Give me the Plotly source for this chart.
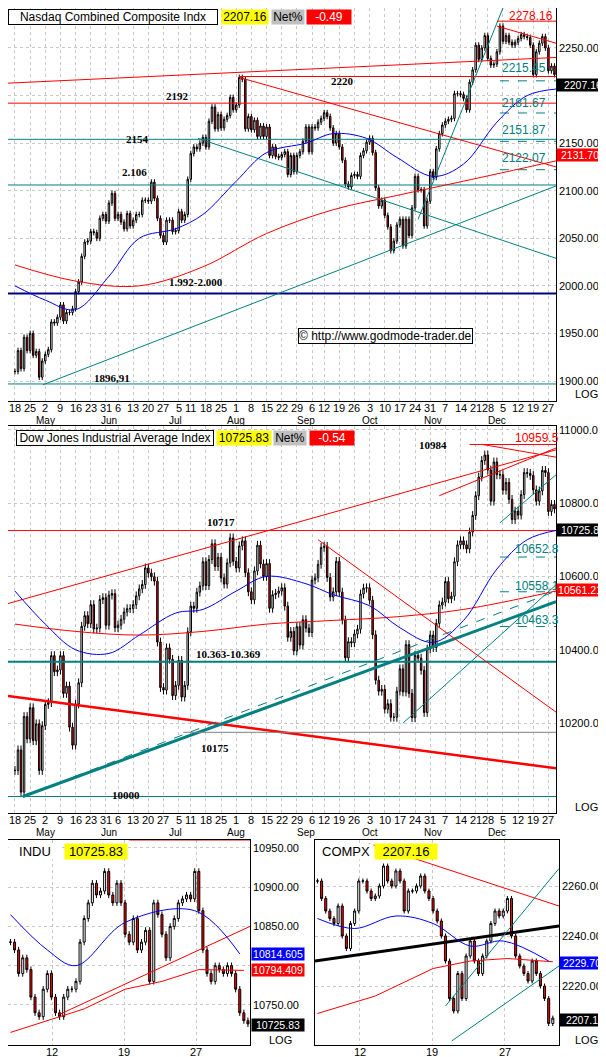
import pandas as pd
import plotly.graph_objects as go

W, H = 606, 1057
# ---------------- data ----------------
NASDAQ_CLOSE = [
 1910,1932,1913,1946,1932, 1950,1927,1931,1904,1921,
 1928,1933,1962,1961,1967, 1980,1963,1972,1972,1976,
 1994,2004,2031,2046,2047, 2057,2056,2050,2071,2075,
 2068,2087,2097,2071, 2075,2067,2060,2076,2063,
 2069,2075,2075,2090,2090, 2089,2109,2092,2071,2053,
 2046,2069,2069,2057,2058, 2078,2069,2075,2112,
 2139,2146,2144,2150,2156, 2146,2173,2188,2165,2180,
 2166,2175,2179,2198,2185, 2190,2219,2217,2165,2178,
 2164,2174,2157,2168,2157, 2167,2137,2146,2136,2135,
 2138,2141,2117,2137,2120, 2137,2141,2152,2167,2141,
 2167,2166,2172,2176, 2182,2178,2166,2150,2160,
 2146,2132,2107,2104,2116, 2117,2115,2137,2142,2151,
 2155,2140,2103,2084,2090, 2074,2062,2037,2047,2064,
 2070,2042,2070,2053,2082, 2115,2101,2101,2063,2089,
 2120,2114,2144,2160,2169, 2173,2175,2176,2202,2202,
 2201,2197,2185,2214,2227, 2253,2238,2250,2263,
 2239,2232,2233,2246,2273, 2257,2263,2256,2253,2256,
 2260,2264,2262,2261,2253, 2222,2246,2255,2262,2250,
 2226,2231,2222,2207.16]
DOW_CLOSE = [
 10071,10127,10012,10218,10157, 10242,10152,10198,10071,10193,
 10251,10256,10384,10340,10345, 10384,10281,10301,10189,10140,
 10252,10310,10464,10493,10471, 10523,10457,10459,10537,10542,
 10467,10549,10553,10460, 10467,10483,10503,10512,10512,
 10523,10547,10566,10578,10623, 10609,10599,10587,10421,10297,
 10290,10405,10374,10275,10303, 10371,10271,10303,10449,
 10519,10513,10557,10574,10640, 10575,10646,10689,10627,10652,
 10596,10579,10637,10705,10641, 10623,10683,10697,10610,10558,
 10536,10615,10685,10634,10600, 10635,10513,10550,10554,10560,
 10569,10519,10434,10450,10397, 10463,10413,10482,10459,10447,
 10590,10596,10633,10679, 10682,10597,10544,10558,10641,
 10557,10481,10378,10422,10419, 10443,10456,10552,10568,10569,
 10535,10441,10317,10287,10292, 10238,10253,10216,10216,10287,
 10348,10285,10414,10281,10215, 10385,10377,10344,10229,10402,
 10440,10406,10472,10522,10530, 10586,10539,10546,10640,10686,
 10697,10686,10675,10721,10766, 10820,10871,10916,10931,
 10890,10805,10912,10877,10877, 10835,10856,10810,10755,10778,
 10767,10823,10883,10881,10875, 10836,10805,10833,10889,10883,
 10777,10796,10784,10725.83]
NQ_MA50 = {"2005-04-18":2000,"2005-05-02":1985,"2005-05-16":1975,"2005-06-01":2010,"2005-06-15":2050,
 "2005-07-01":2060,"2005-07-15":2075,"2005-08-01":2110,"2005-08-15":2140,"2005-09-01":2150,
 "2005-09-15":2160,"2005-09-30":2155,"2005-10-14":2135,"2005-11-01":2115,"2005-11-15":2128,
 "2005-12-01":2172,"2005-12-15":2200,"2005-12-30":2207}
NQ_MA200 = {"2005-04-18":2022,"2005-05-16":2005,"2005-06-15":2000,"2005-07-15":2020,"2005-08-15":2055,
 "2005-09-15":2080,"2005-10-14":2095,"2005-11-15":2110,"2005-12-30":2131.7}
DJ_MA50 = {"2005-04-18":10560,"2005-05-02":10470,"2005-05-16":10400,"2005-06-01":10390,"2005-06-15":10440,
 "2005-07-01":10500,"2005-07-15":10510,"2005-08-01":10560,"2005-08-15":10600,"2005-09-01":10580,
 "2005-09-15":10550,"2005-10-03":10520,"2005-10-17":10460,"2005-11-01":10420,"2005-11-15":10480,
 "2005-12-01":10620,"2005-12-15":10700,"2005-12-30":10726}
DJ_MA200 = {"2005-04-18":10470,"2005-05-16":10450,"2005-06-15":10440,"2005-07-15":10450,"2005-08-15":10470,
 "2005-09-15":10480,"2005-10-14":10490,"2005-11-15":10510,"2005-12-30":10561.2}
INDU_CLOSE = [10830,10820,10790,10810,10795,10760,10740,10735,10770,10790,10760,
 10740,10735,10760,10770,10770,10780,10830,10860,10880,10905,10890,10895,10920,
 10890,10880,10905,10880,10840,10830,10860,10820,10830,10845,10780,
 10880,10865,10840,10810,10850,10860,10880,10885,10890,10885,10920,10870,
 10820,10790,10780,10800,10795,10790,10800,10790,10770,10740,10730,10725.83]
COMPX_CLOSE = [2262,2255,2250,2247,2245,2252,2240,2235,2245,2250,2262,2262,2258,2255,2256,
 2260,2268,2262,2260,2266,2262,2250,2258,2258,2260,2264,2258,2255,2250,
 2246,2240,2230,2215,2210,2225,2215,2232,2238,2230,2225,2232,2238,2245,2250,2248,
 2250,2255,2240,2232,2228,2225,2222,2230,2225,2220,2215,2205,2207.16]
INDU_MA_BLUE = [(0,10865),(9,10820),(16,10800),(28,10855),(45,10870),(56,10815)]
INDU_MA_RED = [(0,10715),(9,10730),(18,10745),(28,10770),(37,10780),(46,10795),(57,10794)]
COMPX_MA_BLUE = [(0,2247),(9,2243),(19,2248),(28,2245),(37,2236),(45,2238),(56,2230)]
COMPX_MA_RED = [(0,2209),(14,2216),(28,2227),(37,2230),(46,2231),(57,2229.7)]
INTRA_TICKS = [(10.2,"12"),(27.8,"19"),(45.4,"27")]

hol = pd.to_datetime(["2005-05-30","2005-07-04","2005-09-05","2005-11-24","2005-12-26"])
dates = [d for d in pd.bdate_range("2005-04-18","2005-12-30") if d not in hol]
n = min(len(dates), len(NASDAQ_CLOSE), len(DOW_CLOSE))
dates = dates[:n]
def di(s):
    t = pd.Timestamp(s)
    for i, d in enumerate(dates):
        if d >= t: return i
    return len(dates)-1

def ohlc(cl, wick):
    o, h, l = [], [], []
    for i, c in enumerate(cl):
        op = cl[i-1] if i else c
        o.append(op); h.append(max(op, c)+wick); l.append(min(op, c)-wick)
    return o, h, l

fig = go.Figure()
def P(x, y): return x/W, 1-y/H
doms = {"1": ((0,548),(0,393)), "2": ((0,548),(418,805)),
        "3": ((0,242),(832,1037)), "4": ((307,551),(832,1037))}
ranges_y = {"1":(1879,2292), "2":(9955,11010), "3":(10699,10960), "4":(2196.4,2278.4)}
ranges_x = {"1":(-2.3,178.5), "2":(-2.3,178.5), "3":(-0.6,58.5), "4":(-0.6,58.5)}
ytick = {"1":list(range(1900,2251,50)), "2":list(range(10200,11001,200)),
         "3":[10750,10800,10850,10900,10950], "4":[2220,2240,2260]}
ytick_lab = {"1":[1900,1950,2000,2050,2100,2150,2250], "2":[10200,10400,10600,10800,11000],
             "3":[10750,10850,10900,10950], "4":[2220,2240,2260]}

def ax(k): return "" if k=="1" else k
def candles(cl, k, wick):
    o, h, l = ohlc(cl, wick)
    fig.add_trace(go.Candlestick(x=list(range(len(cl))), open=o, high=h, low=l, close=cl,
        xaxis="x"+ax(k), yaxis="y"+ax(k),
        increasing=dict(line=dict(color="black", width=1), fillcolor="white"),
        decreasing=dict(line=dict(color="black", width=1), fillcolor="#ff0000"),
        whiskerwidth=0, hoverinfo="skip", showlegend=False))

def line(k, xs, ys, color, width=1, dash=None, shape="linear"):
    fig.add_trace(go.Scatter(x=xs, y=ys, mode="lines", line=dict(color=color, width=width, dash=dash, shape=shape),
        xaxis="x"+ax(k), yaxis="y"+ax(k), showlegend=False, hoverinfo="skip"))

TEAL, RED, BLUE = "#008080", "#ff0000", "#0000ff"
R = 178.5; L = -2.3
for (x0,y0,x1,y1,c,w,d) in [
  (L,2213,R,2240,RED,1,None),(74,2220,R,2220,RED,1,None),(L,2192,R,2192,RED,1,None),
  (L,2154,R,2154,TEAL,1,None),(L,2106,R,2106,TEAL,1,None),(L,1992,R,1992,"#000080",2,None),
  (L,1896.91,R,1896.91,TEAL,1,None),(74,2219,R,2125,RED,1,None),(60.4,2155,R,2029,TEAL,1,None),
  (9.2,1896,R,2105,TEAL,1,None),(133,2070,161,2292,TEAL,1,None),(159,2273,R,2255,RED,1,None),
  (159,2278.16,R,2278.16,RED,1,None),
  (160,2215.45,R,2215.45,TEAL,1,"dash"),(160,2181.67,R,2181.67,TEAL,1,"dash"),
  (160,2151.87,R,2151.87,TEAL,1,"dash"),(160,2122.07,R,2122.07,TEAL,1,"dash")]:
    line("1",[x0,x1],[y0,y1],c,w,d)
line("1",[di(k) for k in NQ_MA200],list(NQ_MA200.values()),RED,1,shape="spline")
line("1",[di(k) for k in NQ_MA50],list(NQ_MA50.values()),BLUE,1,shape="spline")
candles(NASDAQ_CLOSE[:n],"1",3)
for (x0,y0,x1,y1,c,w,d) in [
  (L,10526,R,10945,RED,1,None),(L,10274,R,10077,RED,2.5,None),(2.6,10000,R,10531,TEAL,3,None),
  (2.6,10000,R,10560,TEAL,1,"dash"),(L,10367,R,10367,TEAL,2,None),(55.5,10175,R,10175,"#808080",1,None),
  (L,10000,R,10000,TEAL,1,None),(L,10725,R,10725,RED,1,None),(100,10700,R,10230,RED,1,None),
  (128,10200,R,10577,TEAL,1,None),(160,10746,R,10877,TEAL,1,None),
  (150,10959.5,R,10959.5,RED,1,None),(154,10960,R,10925,RED,1,None),(140,10820,R,10950,RED,1,None),
  (160,10652.8,R,10652.8,TEAL,1,"dash"),(160,10558.1,R,10558.1,TEAL,1,"dash"),(160,10463.3,R,10463.3,TEAL,1,"dash")]:
    line("2",[x0,x1],[y0,y1],c,w,d)
line("2",[di(k) for k in DJ_MA200],list(DJ_MA200.values()),RED,1,shape="spline")
line("2",[di(k) for k in DJ_MA50],list(DJ_MA50.values()),BLUE,1,shape="spline")
candles(DOW_CLOSE[:n],"2",12)
line("3",[12,58.5],[10738,10850],RED)
line("3",[29,58.5],[10960,10960],RED)
line("3",[p[0] for p in INDU_MA_RED],[p[1] for p in INDU_MA_RED],RED)
line("3",[p[0] for p in INDU_MA_BLUE],[p[1] for p in INDU_MA_BLUE],BLUE,shape="spline")
candles(INDU_CLOSE,"3",4)
line("4",[-0.6,58.5],[2230,2244],"black",3)
line("4",[12.4,58.5],[2277,2252],RED)
line("4",[31,58.5],[2212,2267],TEAL)
line("4",[32.5,58.5],[2198,2228],TEAL)
line("4",[p[0] for p in COMPX_MA_RED],[p[1] for p in COMPX_MA_RED],RED)
line("4",[p[0] for p in COMPX_MA_BLUE],[p[1] for p in COMPX_MA_BLUE],BLUE,shape="spline")
candles(COMPX_CLOSE,"4",1)

mondays = []
seen = set()
for i, d in enumerate(dates):
    wk = d.isocalendar()[1]
    if wk not in seen:
        seen.add(wk); mondays.append(i)
lay = dict(width=W, height=H, margin=dict(l=0,r=0,t=0,b=0), paper_bgcolor="white", plot_bgcolor="white",
           font=dict(family="Arial", size=11, color="black"), showlegend=False)
ann = []
for k,((x0,x1),(y0,y1)) in doms.items():
    if k in ("1","2"):
        tv = mondays; tt = [str(dates[i].day) for i in mondays]
    else:
        tv = [t[0] for t in INTRA_TICKS]; tt = [t[1] for t in INTRA_TICKS]
    lay["xaxis"+ax(k)] = dict(domain=[x0/W, x1/W], range=list(ranges_x[k]), anchor="y"+ax(k),
        tickvals=tv, showticklabels=False, showgrid=True, gridcolor="#c8c8c8", griddash="dot",
        showline=True, linecolor="black", mirror=True, ticks="", zeroline=False,
        rangeslider=dict(visible=False), fixedrange=True)
    lay["yaxis"+ax(k)] = dict(domain=[1-y1/H, 1-y0/H], range=list(ranges_y[k]), anchor="x"+ax(k),
        tickvals=ytick[k], showticklabels=False,
        showgrid=True, gridcolor="#c8c8c8", griddash="dot", showline=True, linecolor="black",
        mirror=True, ticks="", zeroline=False)
    for v, t in zip(tv, tt):
        ann.append(dict(x=v, y=1-(y1+7)/H, xref="x"+ax(k), yref="paper", text=t, showarrow=False,
                        yanchor="middle", font=dict(size=11)))
    for v in ytick_lab[k]:
        ann.append(dict(x=(x1+1)/W, y=v, xref="paper", yref="y"+ax(k), text=f"{v:.2f}", showarrow=False,
                        xanchor="left", yanchor="middle", font=dict(size=11)))
fig.update_layout(**lay)

def T(x, y, text, size=11, color="black", bg=None, xa="left", bold=False, font="Arial", border=None, w=None):
    px, py = P(x, y)
    d = dict(x=px, y=py, xref="paper", yref="paper", text=("<b>%s</b>" % text) if bold else text,
             showarrow=False, xanchor=xa, yanchor="middle", font=dict(size=size, color=color, family=font),
             borderpad=0)
    if bg: d["bgcolor"] = bg
    if border: d.update(bordercolor=border, borderwidth=1)
    if w: d["width"] = w; d["align"] = "center"
    ann.append(d)
T(0,9,"Nasdaq Combined Composite Indx",12,bg="white",border="black",w=208)
T(213,9,"2207.16",12,bg="#ffff00",w=46)
T(263,9,"Net%",12,bg="#c0c0c0",w=32)
T(298,9,"-0.49",12,color="white",bg="#ff0000",w=44)
T(8,430,"Dow Jones Industrial Average Index",12,bg="white",border="black",w=196)
T(208,430,"10725.83",12,bg="#ffff00",w=54)
T(265,430,"Net%",12,bg="#c0c0c0",w=32)
T(301,430,"-0.54",12,color="white",bg="#ff0000",w=44)
T(0,843,"INDU",13,bg="white",w=52); T(56,843,"10725.83",13,bg="#ffff00",w=62)
T(310,843,"COMPX",13,bg="white",w=54); T(366,843,"2207.16",13,bg="#ffff00",w=62)
for (x,y,t) in [(157,88,"2192"),(117,131,"2154"),(113,164,"2.106"),(322,73,"2220"),
                (160,274,"1.992-2.000"),(85,370,"1896,91"),(410,437,"10984"),(198,514,"10717"),
                (187,646,"10.363-10.369"),(192,740,"10175"),(103,787,"10000")]:
    T(x,y,t,11,bold=True,font="Times New Roman")
T(290,328,"© http://www.godmode-trader.de",12,bg="white",border="black")
T(500,8,"2278.16",12,color=RED); T(493,60,"2215.45",12,color=TEAL); T(493,95,"2181.67",12,color=TEAL)
T(493,122,"2151.87",12,color=TEAL); T(493,150,"2122.07",12,color=TEAL)
T(548,77,"2207.16",10.5,color="white",bg="black",w=52); T(548,147,"2131.705",10.5,color="white",bg=RED,w=52)
T(506,430,"10959.5",12,color=RED); T(506,541,"10652.8",12,color=TEAL); T(506,578,"10558.1",12,color=TEAL)
T(506,612,"10463.3",12,color=TEAL)
T(548,522,"10725.83",10.5,color="white",bg="black",w=52); T(548,582,"10561.214",10.5,color="white",bg=RED,w=52)
T(243,946,"10814.605",10.5,color="white",bg=BLUE,w=52); T(243,962,"10794.409",10.5,color="white",bg=RED,w=52)
T(243,1017,"10725.83",10.5,color="white",bg="black",w=52)
T(551,955,"2229.709",10.5,color="white",bg=BLUE,w=50); T(551,1012,"2207.16",10.5,color="white",bg="black",w=50)
for (x,y) in [(578,386),(578,799),(272,1032),(578,1032)]:
    T(x,y,"LOG",11, xa="center")
for m in ["2005-05-02","2005-06-01","2005-07-01","2005-08-01","2005-09-01","2005-10-03","2005-11-01","2005-12-01"]:
    i = di(m)
    lab = pd.Timestamp(m).strftime("%b")
    for k, yy in (("1",412),("2",824)):
        ann.append(dict(x=i, y=1-yy/H, xref="x"+ax(k), yref="paper", text=lab, showarrow=False,
                        yanchor="middle", font=dict(size=10)))
fig.update_layout(annotations=ann)
fig.write_html("out.html")
